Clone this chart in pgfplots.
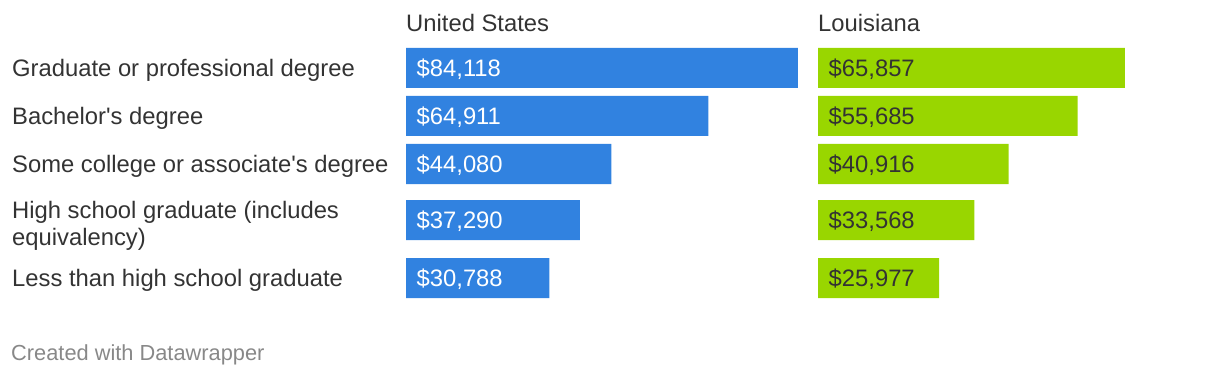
\documentclass[border=0pt]{standalone}
\usepackage{pgfplots}
\pgfplotsset{compat=1.18}
\usepackage{fontspec}
\setmainfont{Liberation Sans}
\definecolor{usblue}{HTML}{3182E0}
\definecolor{lagreen}{HTML}{99D600}
\definecolor{txt}{HTML}{333333}
\definecolor{foot}{HTML}{888888}
\newcommand{\lbl}{\fontsize{23.8}{28}\selectfont}
\newcommand{\ftr}{\fontsize{21.8}{26}\selectfont}
\pgfplotsset{
  panel/.style={
    anchor=south west, scale only axis, width=392pt, height=374pt,
    xmin=0, xmax=84118, ymin=-374, ymax=0, clip=false,
    axis line style={draw=none}, major tick length=0pt, xtick=\empty,
  },
  vals/.style={
    draw=none, mark=none, point meta=explicit,
    nodes near coords={\$\pgfmathprintnumber[fixed,precision=0,1000 sep={,},assume math mode=true]{\pgfplotspointmeta}},
    every node near coord/.append style={anchor=base west, inner sep=0pt, xshift=10.5pt, yshift=-8.7pt, font=\lbl, text=#1},
  },
}
\begin{document}
\begin{tikzpicture}
\useasboundingbox (0,0) rectangle (1220pt,-374pt);
\begin{axis}[panel, at={(406pt,-374pt)},
  ytick={-76.7,-124.7,-172.7,-218.3,-245.5,-286.7},
  yticklabels={Graduate or professional degree, Bachelor\textquotesingle s degree, Some college or associate\textquotesingle s degree, High school graduate (includes, equivalency), Less than high school graduate},
  yticklabel style={anchor=base west, inner sep=0pt, xshift=-394pt, font=\lbl, text=txt},
]
\addplot[xbar, bar width=40pt, bar shift=0pt, fill=usblue, draw=none]
  coordinates {(84118,-68) (64911,-116) (44080,-164) (37290,-220) (30788,-278)};
\addplot[vals=white]
  coordinates {(0,-68)[84118] (0,-116)[64911] (0,-164)[44080] (0,-220)[37290] (0,-278)[30788]};
\end{axis}
\begin{axis}[panel, at={(818pt,-374pt)}, ytick=\empty]
\addplot[xbar, bar width=40pt, bar shift=0pt, fill=lagreen, draw=none]
  coordinates {(65857,-68) (55685,-116) (40916,-164) (33568,-220) (25977,-278)};
\addplot[vals=txt]
  coordinates {(0,-68)[65857] (0,-116)[55685] (0,-164)[40916] (0,-220)[33568] (0,-278)[25977]};
\end{axis}
\node[anchor=base west, inner sep=0pt, font=\lbl, text=txt] at (406pt,-31.5pt) {United States};
\node[anchor=base west, inner sep=0pt, font=\lbl, text=txt] at (818pt,-31.5pt) {Louisiana};
\node[anchor=base west, inner sep=0pt, font=\ftr, text=foot] at (11pt,-360pt) {Created with Datawrapper};
\end{tikzpicture}
\end{document}
